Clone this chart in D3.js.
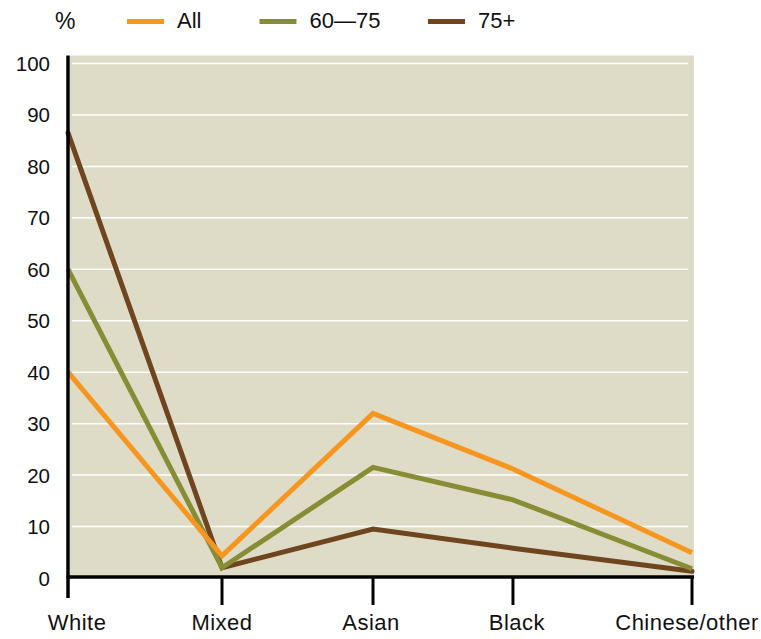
<!DOCTYPE html>
<html><head><meta charset="utf-8">
<script src="https://cdn.jsdelivr.net/npm/d3@7"></script>
<style>body{margin:0;background:#fff}svg{display:block;font-family:"Liberation Sans",Arial,sans-serif}</style>
</head><body><svg id="c" width="761" height="639"></svg>
<script>
const categories = ["White","Mixed","Asian","Black","Chinese/other"];
const seriesNames = ["All","60\u201475","75+"];
const allValues = [40, 4.3, 32, 21.2, 4.9];
const age6075Values = [60, 2, 21.5, 15.2, 1.8];
const age75Values = [86.5, 2, 9.5, 5.8, 1.3];
const yTicks = [0,10,20,30,40,50,60,70,80,90,100];
const colors = ["#f7961f","#878d35","#6e451f"];

(function(){
const svg = d3.select("#c");
const mL = 68, mR = 692, mT = 63.5, mB = 578;
// category spacing along the axis as in the reference
const catStops = [0, 0.2468, 0.4888, 0.7131, 1];
const labelShift = [9, 0, -2, 4, -5];
const x = d3.scaleLinear().domain(d3.range(categories.length)).range(catStops.map(f => mL + f*(mR-mL)));
const y = d3.scaleLinear().domain([0,100]).range([mB, mT]);

svg.append("rect").attr("x", mL+2).attr("y", mT-8).attr("width", mR-mL).attr("height", mB-mT+6).attr("fill","#dedbc6");

svg.append("g").selectAll("line").data(yTicks.filter(d=>d>0)).join("line")
  .attr("x1", mL+4).attr("x2", mR-4).attr("y1", d=>y(d)).attr("y2", d=>y(d))
  .attr("stroke","#fff").attr("stroke-width",1.5);

svg.append("g").selectAll("text").data(yTicks).join("text")
  .attr("x", 50).attr("y", d=>y(d)+7.5).attr("text-anchor","end")
  .attr("font-size", 20.5).attr("fill","#111").text(d=>d);

const series = [allValues, age6075Values, age75Values];
const line = d3.line().x((d,i)=>x(i)).y(d=>y(d));
const order = [2,1,0];
svg.append("g").selectAll("path").data(order).join("path")
  .attr("d", k=>line(series[k])).attr("fill","none").attr("stroke", k=>colors[k])
  .attr("stroke-width",5).attr("stroke-linejoin","miter").attr("stroke-linecap", k=>k===2?"round":"butt");

// axes
svg.append("line").attr("x1", mL).attr("x2", mL).attr("y1", mT-8).attr("y2", 598).attr("stroke","#000").attr("stroke-width",3.5);
svg.append("line").attr("x1", mL-1.5).attr("x2", mR+2).attr("y1", mB-1).attr("y2", mB-1).attr("stroke","#000").attr("stroke-width",3.5);
svg.append("g").selectAll("line").data(d3.range(1,categories.length)).join("line")
  .attr("x1", i=>x(i)).attr("x2", i=>x(i)).attr("y1", mB).attr("y2", mB+27)
  .attr("stroke","#000").attr("stroke-width",3);
svg.append("g").selectAll("text").data(categories).join("text")
  .attr("x",(d,i)=> x(i)+labelShift[i]).attr("y", 630).attr("text-anchor","middle")
  .attr("font-size",22).attr("letter-spacing",0.5).attr("fill","#111").text(d=>d);

// legend
svg.append("text").attr("x",55).attr("y",29).attr("font-size",23).attr("fill","#111").text("%");
const legX = [127, 259.5, 428];
const lg = svg.append("g").selectAll("g").data(seriesNames).join("g");
lg.append("line").attr("x1",(d,i)=>legX[i]).attr("x2",(d,i)=>legX[i]+37).attr("y1",21.5).attr("y2",21.5)
  .attr("stroke",(d,i)=>colors[i]).attr("stroke-width",5);
lg.append("text").attr("x",(d,i)=>legX[i]+50).attr("y",27.5).attr("font-size",22).attr("fill","#111").text(d=>d);
})();
</script></body></html>
